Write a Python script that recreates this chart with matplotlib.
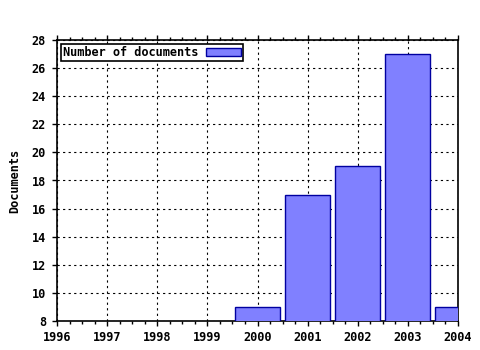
import matplotlib
matplotlib.use("Agg")
import matplotlib.pyplot as plt
from matplotlib.ticker import MultipleLocator

years = [2000, 2001, 2002, 2003, 2004]
docs = [9, 17, 19, 27, 9]
xticks = list(range(1996, 2005))
yticks = list(range(8, 29, 2))

plt.rcParams['font.family'] = ['DejaVu Sans Mono']
plt.rcParams['font.weight'] = 'bold'
plt.rcParams['font.size'] = 8.6

fig = plt.figure(figsize=(4.8, 3.5), dpi=100)
ax = fig.add_axes([57/480, 1-321/350, (458-57)/480, (321-40)/350])
ax.bar(years, docs, width=0.9, color='#8080ff', edgecolor='#0000a0', linewidth=1,
       label='Number of documents', zorder=3)
ax.set_xlim(1996, 2004)
ax.set_ylim(8, 28)
ax.set_xticks(xticks)
ax.set_yticks(yticks)
ax.xaxis.set_minor_locator(MultipleLocator(0.25))
ax.grid(True, which='major', linestyle=(0, (2, 3)), color='black', linewidth=0.8, zorder=0)
ax.tick_params(which='major', direction='out', top=True, bottom=True, left=True, right=False,
               length=3.5, width=1, labelsize=8.6)
ax.tick_params(axis='x', which='major', pad=3.5)
ax.tick_params(axis='y', which='major', pad=4.5)
ax.tick_params(which='minor', direction='out', top=True, bottom=True, length=2, width=1)
for s in ax.spines.values():
    s.set_linewidth(1.2)
ax.set_ylabel('Documents', fontweight='bold')
ax.yaxis.set_label_coords((21 - 57) / 401, 0.5)
for t in ax.get_xticklabels() + ax.get_yticklabels():
    t.set_fontweight('bold')
leg = ax.legend(loc='upper left', markerfirst=False, fancybox=False, framealpha=1,
                edgecolor='black', borderpad=0.15, handlelength=3.0, handleheight=0.6,
                handletextpad=0.6, borderaxespad=0.35)
leg.get_frame().set_linewidth(1.2)
fig.savefig('out.png', dpi=100)
